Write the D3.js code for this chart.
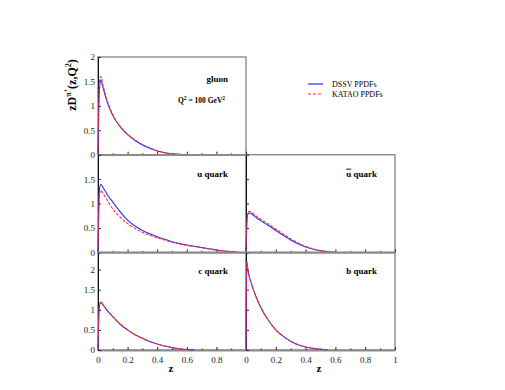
<!DOCTYPE html>
<html>
<head>
<meta charset="utf-8">
<script src="https://cdn.jsdelivr.net/npm/d3@7"></script>
<style>
  body { margin: 0; background: #fff; }
</style>
</head>
<body>
<div id="chart"></div>
<script>
var serif = "'Liberation Serif', 'DejaVu Serif', serif";

// z grid shared by all curves
var zGrid = [0, 0.005, 0.01, 0.02, 0.03, 0.05, 0.07, 0.1, 0.15, 0.2, 0.25, 0.3, 0.35, 0.4,
             0.45, 0.5, 0.55, 0.6, 0.65, 0.7, 0.75, 0.8, 0.85, 0.9, 0.95];

// gluon
var gluonDSSV  = [0, 0.9, 1.35, 1.53, 1.42, 1.2, 1.01, 0.8, 0.57, 0.41, 0.29, 0.2, 0.13, 0.075, 0.04, 0.018, 0.006, 0.001];
var gluonKATAO = [0, 1.0, 1.5, 1.6, 1.47, 1.23, 1.04, 0.82, 0.58, 0.42, 0.3, 0.21, 0.14, 0.08, 0.045, 0.02, 0.007, 0.001];
// u quark
var uDSSV  = [0, 0.9, 1.3, 1.39, 1.35, 1.25, 1.15, 1.03, 0.83, 0.66, 0.54, 0.45, 0.38, 0.32, 0.27, 0.22, 0.18, 0.15, 0.125, 0.1, 0.075, 0.05, 0.03, 0.015, 0.003];
var uKATAO = [0, 0.8, 1.18, 1.27, 1.23, 1.13, 1.03, 0.89, 0.72, 0.59, 0.49, 0.41, 0.35, 0.3, 0.255, 0.21, 0.175, 0.145, 0.12, 0.095, 0.072, 0.05, 0.03, 0.015, 0.003];
// u-bar quark
var ubarDSSV  = [0, 0.55, 0.76, 0.81, 0.8, 0.76, 0.71, 0.645, 0.55, 0.45, 0.35, 0.255, 0.175, 0.11, 0.065, 0.034, 0.013, 0.002];
var ubarKATAO = [0, 0.58, 0.79, 0.84, 0.83, 0.79, 0.74, 0.675, 0.58, 0.48, 0.38, 0.28, 0.195, 0.125, 0.075, 0.04, 0.015, 0.003];
// c quark
var cDSSV  = [0, 0.8, 1.12, 1.19, 1.14, 1.04, 0.95, 0.83, 0.64, 0.5, 0.38, 0.29, 0.21, 0.15, 0.1, 0.06, 0.03, 0.012, 0.003];
var cKATAO = [0, 0.8, 1.12, 1.2, 1.15, 1.05, 0.95, 0.83, 0.645, 0.5, 0.38, 0.29, 0.21, 0.15, 0.1, 0.06, 0.03, 0.012, 0.003];
// b quark
var bDSSV  = [0, 2.2, 2.05, 1.85, 1.72, 1.5, 1.3, 1.05, 0.74, 0.5, 0.34, 0.22, 0.13, 0.075, 0.04, 0.018, 0.005];
var bKATAO = [0, 2.22, 2.06, 1.86, 1.73, 1.5, 1.3, 1.05, 0.745, 0.5, 0.34, 0.22, 0.13, 0.075, 0.04, 0.018, 0.005];

var xMajor = [0, 0.2, 0.4, 0.6, 0.8, 1];
var xMinor = [0.1, 0.3, 0.5, 0.7, 0.9];
var yMajor = [0, 0.5, 1, 1.5, 2];
var seriesNames = ["DSSV PPDFs", "KATAO PPDFs"];

var blue = "#2b2bff", red = "#ff3030";

// panel grid
var colX = [98, 246], colW = [148, 149];
var rowY = [57, 154.7, 252.3], rowH = 97.7;

var panels = [
    {label: "gluon",   col: 0, row: 0, ymax: 2,    yLabels: [0, 0.5, 1, 1.5, 2], xLabels: [], a: gluonDSSV, b: gluonKATAO},
    {label: "u quark", col: 0, row: 1, ymax: 2,    yLabels: [0, 0.5, 1, 1.5],    xLabels: [], a: uDSSV,     b: uKATAO},
    {label: "ubar",    col: 1, row: 1, ymax: 2,    yLabels: [],                  xLabels: [], a: ubarDSSV,  b: ubarKATAO},
    {label: "c quark", col: 0, row: 2, ymax: 2.43, yLabels: [0, 0.5, 1, 1.5, 2], xLabels: [0, 0.2, 0.4, 0.6, 0.8], a: cDSSV, b: cKATAO},
    {label: "b quark", col: 1, row: 2, ymax: 2.43, yLabels: [],                  xLabels: [0, 0.2, 0.4, 0.6, 0.8, 1], a: bDSSV, b: bKATAO}
];

var svg = d3.select("#chart").append("svg")
    .attr("width", 505).attr("height", 390)
    .attr("font-family", serif);

panels.forEach(function (p) {
    var x0 = colX[p.col], y0 = rowY[p.row], w = colW[p.col];
    var x = d3.scaleLinear().domain([0, 1]).range([x0, x0 + w]);
    var y = d3.scaleLinear().domain([0, p.ymax]).range([y0 + rowH, y0]);

    var g = svg.append("g");

    // frame
    g.append("rect")
        .attr("x", x0).attr("y", y0).attr("width", w).attr("height", rowH)
        .attr("fill", "none").attr("stroke", "#8c8c8c").attr("stroke-width", 1.4);

    // x axis: major + minor ticks, pointing inward
    var xa = g.append("g").attr("transform", "translate(0," + (y0 + rowH) + ")")
        .call(d3.axisBottom(x).tickValues(xMajor).tickSizeInner(-3).tickSizeOuter(0)
            .tickFormat(function (d) { return p.xLabels.indexOf(d) >= 0 ? d3.format("~g")(d) : ""; }))
        .attr("font-family", serif);
    xa.select(".domain").attr("stroke", "#8c8c8c").attr("stroke-width", 1.8);
    xa.selectAll(".tick line").attr("stroke", "#222");
    xa.selectAll(".tick text").attr("dy", "1.1em").style("font-size", "9px").attr("fill", "#222");

    g.append("g").attr("transform", "translate(0," + (y0 + rowH) + ")")
        .call(d3.axisBottom(x).tickValues(xMinor).tickSizeInner(-1.5).tickSizeOuter(0).tickFormat(""))
        .call(function (s) { s.select(".domain").remove(); s.selectAll("line").attr("stroke", "#222"); });

    // y axis
    var ya = g.append("g").attr("transform", "translate(" + x0 + ",0)")
        .call(d3.axisLeft(y).tickValues(yMajor).tickSizeInner(-3).tickSizeOuter(0)
            .tickFormat(function (d) { return p.yLabels.indexOf(d) >= 0 ? d3.format("~g")(d) : ""; }))
        .attr("font-family", serif);
    ya.select(".domain").attr("stroke", "#111").attr("stroke-width", 1);
    ya.selectAll(".tick line").attr("stroke", "#222");
    ya.selectAll(".tick text").attr("x", -3).style("font-size", "9px").attr("fill", "#222");

    // curves
    var line = d3.line()
        .curve(d3.curveMonotoneX)
        .x(function (d, i) { return x(zGrid[i]); })
        .y(function (d) { return y(d); });

    g.append("path").datum(p.a)
        .attr("fill", "none").attr("stroke", blue).attr("stroke-width", 1.1)
        .attr("d", line);
    g.append("path").datum(p.b)
        .attr("fill", "none").attr("stroke", red).attr("stroke-width", 1.1)
        .attr("stroke-dasharray", "3,1.5")
        .attr("d", line);

    // panel label
    var lab = g.append("text")
        .attr("x", x0 + w - 18).attr("y", y0 + (p.row === 0 ? 25 : 22))
        .attr("text-anchor", "end")
        .style("font-size", "9px").style("font-weight", "bold");
    if (p.label === "ubar") {
        lab.append("tspan").text("u").style("text-decoration", "overline");
        lab.append("tspan").text(" quark");
    } else {
        lab.text(p.label);
    }
});

// Q^2 annotation
var q = svg.append("text").attr("x", 178).attr("y", 103)
    .style("font-size", "7.5px").style("font-weight", "bold");
q.append("tspan").text("Q");
q.append("tspan").text("2").attr("dy", -3).style("font-size", "5.5px");
q.append("tspan").text(" = 100 GeV").attr("dy", 3);
q.append("tspan").text("2").attr("dy", -3).style("font-size", "5.5px");

// y axis title
var yt = svg.append("text")
    .attr("transform", "translate(76,85) rotate(-90)")
    .attr("text-anchor", "middle")
    .style("font-size", "12px").style("font-weight", "bold");
yt.append("tspan").text("zD");
yt.append("tspan").text("\u03c0").attr("dy", -5).style("font-size", "8px");
yt.append("tspan").text("+").attr("dy", -3).style("font-size", "6px");
yt.append("tspan").text("(z,Q").attr("dy", 8);
yt.append("tspan").text("2").attr("dy", -5).style("font-size", "8px");
yt.append("tspan").text(")").attr("dy", 5);

// x axis titles
[171, 319].forEach(function (cx) {
    svg.append("text").attr("x", cx).attr("y", 372)
        .attr("text-anchor", "middle")
        .style("font-size", "11px").style("font-weight", "bold")
        .text("z");
});

// legend
var legend = svg.append("g").attr("transform", "translate(308,84)");
[blue, red].forEach(function (c, i) {
    legend.append("line")
        .attr("x1", 0).attr("x2", 15).attr("y1", i * 10).attr("y2", i * 10)
        .attr("stroke", c).attr("stroke-width", 1.2)
        .attr("stroke-dasharray", i === 1 ? "3,2" : null);
    legend.append("text")
        .attr("x", 24).attr("y", i * 10 + 3)
        .style("font-size", "8px")
        .text(seriesNames[i]);
});
</script>
</body>
</html>
